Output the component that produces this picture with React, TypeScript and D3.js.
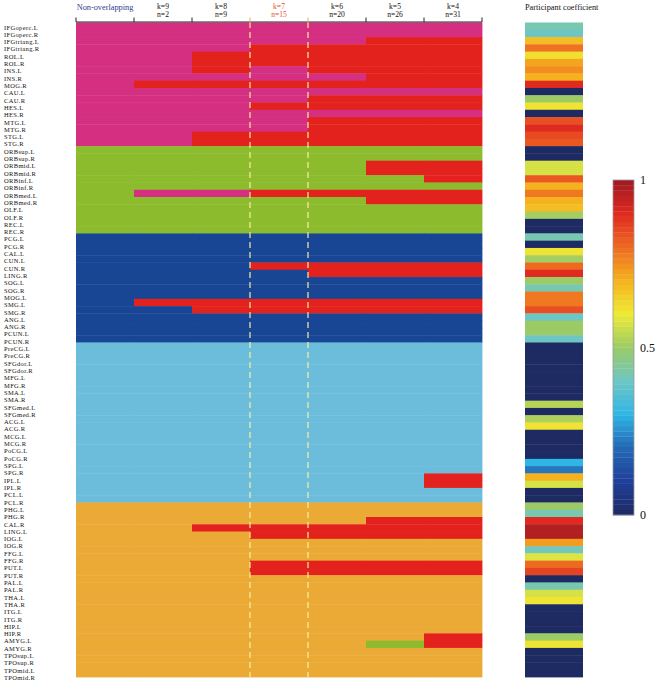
import React, { useEffect, useRef } from 'react';
import * as d3 from 'd3';

const columns = ['Non-overlapping', 'k=9', 'k=8', 'k=7', 'k=6', 'k=5', 'k=4'];
const columnN = ['', 'n=2', 'n=9', 'n=15', 'n=20', 'n=26', 'n=31'];

const regions = [
  'IFGoperc.L', 'IFGoperc.R', 'IFGtriang.L', 'IFGtriang.R', 'ROL.L', 'ROL.R', 'INS.L', 'INS.R', 'MOG.R',
  'CAU.L', 'CAU.R', 'HES.L', 'HES.R', 'MTG.L', 'MTG.R', 'STG.L', 'STG.R',
  'ORBsup.L', 'ORBsup.R', 'ORBmid.L', 'ORBmid.R', 'ORBinf.L', 'ORBinf.R', 'ORBmed.L', 'ORBmed.R',
  'OLF.L', 'OLF.R', 'REC.L', 'REC.R',
  'PCG.L', 'PCG.R', 'CAL.L', 'CUN.L', 'CUN.R', 'LING.R', 'SOG.L', 'SOG.R', 'MOG.L', 'SMG.L', 'SMG.R',
  'ANG.L', 'ANG.R', 'PCUN.L', 'PCUN.R',
  'PreCG.L', 'PreCG.R', 'SFGdor.L', 'SFGdor.R', 'MFG.L', 'MFG.R', 'SMA.L', 'SMA.R', 'SFGmed.L', 'SFGmed.R',
  'ACG.L', 'ACG.R', 'MCG.L', 'MCG.R', 'PoCG.L', 'PoCG.R', 'SPG.L', 'SPG.R', 'IPL.L', 'IPL.R', 'PCL.L', 'PCL.R',
  'PHG.L', 'PHG.R', 'CAL.R', 'LING.L', 'IOG.L', 'IOG.R', 'FFG.L', 'FFG.R', 'PUT.L', 'PUT.R', 'PAL.L', 'PAL.R',
  'THA.L', 'THA.R', 'ITG.L', 'ITG.R', 'HIP.L', 'HIP.R', 'AMYG.L', 'AMYG.R', 'TPOsup.L', 'TPOsup.R', 'TPOmid.L', 'TPOmid.R',
];

// module per column (Non-overlapping, k=9 ... k=4)
// M magenta, G green, B dark blue, L light blue, O orange, R red (overlapping)
const assignments = [
  'MMMMMMM', 'MMMMMMM', 'MMMMMRR', 'MMMRRRR', 'MMRRRRR', 'MMRRRRR', 'MMRMRRR', 'MMMMMRR', 'MRRRRRR',
  'MMMMMMM', 'MMMMRRR', 'MMMRRRR', 'MMMMMMM', 'MMMMRRR', 'MMMMRRR', 'MMRRRRR', 'MMRRRRR',
  'GGGGGGG', 'GGGGGGG', 'GGGGGRR', 'GGGGGRR', 'GGGGGGR', 'GGGGGGG', 'GMMRRRR', 'GGGGGRR',
  'GGGGGGG', 'GGGGGGG', 'GGGGGGG', 'GGGGGGG',
  'BBBBBBB', 'BBBBBBB', 'BBBBBBB', 'BBBBBBB', 'BBBRRRR', 'BBBBRRR', 'BBBBBBB', 'BBBBBBB', 'BBBBBBB', 'BRRRRRR', 'BBRRRRR',
  'BBBBBBB', 'BBBBBBB', 'BBBBBBB', 'BBBBBBB',
  'LLLLLLL', 'LLLLLLL', 'LLLLLLL', 'LLLLLLL', 'LLLLLLL', 'LLLLLLL', 'LLLLLLL', 'LLLLLLL', 'LLLLLLL', 'LLLLLLL',
  'LLLLLLL', 'LLLLLLL', 'LLLLLLL', 'LLLLLLL', 'LLLLLLL', 'LLLLLLL', 'LLLLLLL', 'LLLLLLL', 'LLLLLLR', 'LLLLLLR', 'LLLLLLL', 'LLLLLLL',
  'OOOOOOO', 'OOOOOOO', 'OOOOORR', 'OORRRRR', 'OOORRRR', 'OOOOOOO', 'OOOOOOO', 'OOOOOOO', 'OOORRRR', 'OOORRRR', 'OOOOOOO', 'OOOOOOO',
  'OOOOOOO', 'OOOOOOO', 'OOOOOOO', 'OOOOOOO', 'OOOOOOO', 'OOOOOOO', 'OOOOOOR', 'OOOOOGR', 'OOOOOOO', 'OOOOOOO', 'OOOOOOO', 'OOOOOOO',
];

const participation = [
  0.42, 0.40, 0.68, 0.79, 0.62, 0.72, 0.75, 0.70, 0.90,
  0, 0.50, 0.61, 0, 0.84, 0.90, 0.85, 0.83,
  0, 0, 0.57, 0.57, 0.83, 0.70, 0.78, 0.70,
  0.68, 0.51, 0, 0,
  0.42, 0, 0.61, 0.51, 0.80, 0.90, 0.50, 0.42, 0.78, 0.78, 0.84,
  0.40, 0.50, 0.50, 0.40,
  0, 0, 0, 0, 0, 0, 0, 0, 0.53, 0,
  0.52, 0.61, 0, 0, 0, 0, 0.30, 0.22, 0.70, 0.57, 0, 0,
  0.50, 0.42, 0.90, 0.97, 0.97, 0.73, 0.41, 0.58, 0.80, 0.86, 0, 0.42,
  0.57, 0.61, 0, 0, 0, 0, 0.50, 0.61, 0, 0, 0, 0,
];

const legendTicks = [0, 0.5, 1];

const moduleColors = { M: '#D52F82', G: '#8CBB2D', B: '#194595', L: '#6CBDDB', O: '#EBAA35', R: '#E3221E' };
const cmapStops = [0, 0.1, 0.2, 0.3, 0.4, 0.5, 0.6, 0.7, 0.8, 0.9, 1];
const cmapColors = ['#1E2A62', '#1F3F9A', '#2468B4', '#2FB5E6', '#6EC6C4', '#9CCB66', '#EEEA35', '#F5B21E', '#EE6A22', '#E02A20', '#9E1A22'];

const App = () => {
  const svgRef = useRef(null);

  useEffect(() => {
    document.body.style.margin = '0';
    const svg = d3.select(svgRef.current);
    svg.selectAll('*').remove();
    const font = '"Liberation Serif", "Times New Roman", serif';

    const x = d3.scaleBand().domain(columns).range([76, 482]);
    const y = d3.scaleBand().domain(regions).range([22.5, 677]);
    const labelY = d3.scalePoint().domain(regions).range([29.5, 680]);
    const pcColor = d3.scaleLinear<string>().domain(cmapStops).range(cmapColors).clamp(true);

    // heatmap cells
    const cells = svg.append('g');
    regions.forEach((r, i) => {
      columns.forEach((c, j) => {
        cells.append('rect')
          .attr('x', x(c))
          .attr('y', y(r))
          .attr('width', x.bandwidth() + 0.4)
          .attr('height', y.bandwidth() + 0.4)
          .attr('fill', moduleColors[assignments[i][j]]);
      });
    });

    // dashed lines around k=7
    const k7 = x('k=7');
    [k7, k7 + x.bandwidth()].forEach(xv => {
      svg.append('line')
        .attr('x1', xv).attr('x2', xv)
        .attr('y1', 22).attr('y2', y.range()[1])
        .attr('stroke', '#F8F2A0')
        .attr('stroke-opacity', 0.9)
        .attr('stroke-width', 1.3)
        .attr('stroke-dasharray', '6,4');
    });

    // top axis
    svg.append('line')
      .attr('x1', x.range()[0]).attr('x2', x.range()[1])
      .attr('y1', 22).attr('y2', 22)
      .attr('stroke', '#222').attr('stroke-width', 1);
    const bounds = columns.map(c => x(c)).concat([x.range()[1]]);
    bounds.forEach(b => {
      const red = b === k7 || b === k7 + x.bandwidth();
      svg.append('line')
        .attr('x1', b).attr('x2', b)
        .attr('y1', 17.5).attr('y2', red ? 25 : 22)
        .attr('stroke', red ? '#F0A070' : '#222')
        .attr('stroke-width', 1);
    });

    // column headers
    columns.forEach((c, j) => {
      const color = j === 0 ? '#2E3D8F' : j === 3 ? '#E5502E' : '#111';
      const cx = x(c) + x.bandwidth() / 2;
      const lines = columnN[j] ? [c, columnN[j]] : [c];
      lines.forEach((s, k) => {
        svg.append('text')
          .attr('x', cx)
          .attr('y', lines.length === 1 ? 10 : k === 0 ? 8.5 : 17)
          .attr('text-anchor', 'middle')
          .attr('fill', color)
          .attr('font-family', font)
          .attr('font-size', lines.length === 1 ? 8.3 : 7.6)
          .text(s);
      });
    });

    // region labels
    svg.append('g').selectAll('text')
      .data(regions)
      .enter()
      .append('text')
      .attr('x', 4)
      .attr('y', d => labelY(d))
      .attr('fill', '#111')
      .attr('font-family', font)
      .attr('font-size', 6.5)
      .attr('letter-spacing', 0.35)
      .text(d => d);

    // participant coefficient column
    svg.append('text')
      .attr('x', 525).attr('y', 10)
      .attr('fill', '#111')
      .attr('font-family', font)
      .attr('font-size', 8.3)
      .text('Participant coefficient');
    svg.append('g').selectAll('rect')
      .data(regions)
      .enter()
      .append('rect')
      .attr('x', 525)
      .attr('y', d => y(d))
      .attr('width', 58)
      .attr('height', y.bandwidth() + 0.4)
      .attr('fill', (d, i) => pcColor(participation[i]));

    // colour bar legend
    const ly = d3.scaleLinear().domain([0, 1]).range([515, 180]);
    const steps = d3.range(64);
    const stepH = (ly(0) - ly(1)) / steps.length;
    svg.append('g').selectAll('rect')
      .data(steps)
      .enter()
      .append('rect')
      .attr('x', 613)
      .attr('y', s => ly((s + 1) / steps.length))
      .attr('width', 21)
      .attr('height', stepH + 0.3)
      .attr('fill', s => pcColor((s + 0.5) / steps.length));
    svg.append('rect')
      .attr('x', 613).attr('y', ly(1))
      .attr('width', 21).attr('height', ly(0) - ly(1))
      .attr('fill', 'none')
      .attr('stroke', '#9a9a9a')
      .attr('stroke-width', 0.8);
    legendTicks.forEach(v => {
      svg.append('text')
        .attr('x', 640)
        .attr('y', ly(v) + 4)
        .attr('fill', '#111')
        .attr('font-family', font)
        .attr('font-size', 12)
        .text(String(v));
    });
  }, []);

  return <svg ref={svgRef} width={661} height={689} style={{ display: 'block', background: '#fff' }} />;
};

export default App;
